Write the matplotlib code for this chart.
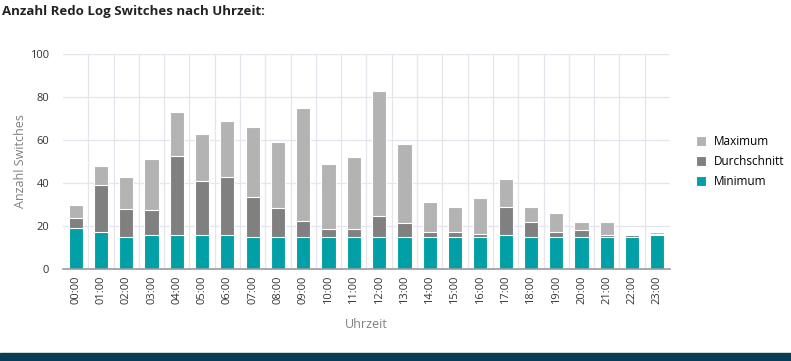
import matplotlib.pyplot as plt
import numpy as np
from matplotlib.patches import Rectangle

plt.rcParams['font.family'] = ['Open Sans', 'DejaVu Sans']

hours = [f"{h:02d}:00" for h in range(24)]
maximum = [30, 48, 43, 51, 73, 63, 69, 66, 59, 75, 49, 52,
           83, 58, 31, 29, 33, 42, 29, 26, 22, 22, 16, 17]
average = [23.5, 39, 28, 27.5, 52.5, 41, 43, 33.5, 28.5, 22.5, 18.5, 18.5,
           24.5, 21.5, 17, 17, 16.5, 29, 22, 17, 18, 16, 16, 16.5]
minimum = [19, 17, 15, 16, 16, 16, 16, 15, 15, 15, 15, 15,
           15, 15, 15, 15, 15, 16, 15, 15, 15, 15, 15, 16]

c_max = '#b3b3b3'
c_avg = '#808080'
c_min = '#00a0a6'

fig = plt.figure(figsize=(7.91, 3.61), dpi=100)
ax = fig.add_axes([63 / 791, 1 - 269 / 361, 607 / 791, 215 / 361])

x = np.arange(len(hours))
w = 0.56
ax.bar(x, maximum, w, color=c_max, edgecolor='white', linewidth=0.8, label='Maximum', zorder=2)
ax.bar(x, average, w, color=c_avg, edgecolor='white', linewidth=0.8, label='Durchschnitt', zorder=3)
ax.bar(x, minimum, w, color=c_min, edgecolor='white', linewidth=0.8, label='Minimum', zorder=4)

ax.set_xlim(-0.5, len(hours) - 0.5)
ax.set_ylim(0, 100)
ax.set_yticks(range(0, 101, 20))
ax.set_xticks(x)
ax.set_xticklabels(hours, rotation=90, fontsize=8, color='#333333')
ax.tick_params(axis='y', labelsize=8, colors='#333333', length=0, pad=10)
ax.tick_params(axis='x', length=0, pad=5)

# grid: horizontal at ticks, vertical between categories
for yv in range(20, 101, 20):
    ax.axhline(yv, color='#e3e6ec', linewidth=0.9, zorder=0)
for xv in x[:-1] + 0.5:
    ax.axvline(xv, color='#e3e6ec', linewidth=0.9, zorder=0)

for s in ['top', 'right', 'left']:
    ax.spines[s].set_visible(False)
ax.spines['bottom'].set_color('#9a9a9a')
ax.spines['bottom'].set_linewidth(1.2)
ax.spines['bottom'].set_zorder(5)

ax.set_ylabel('Anzahl Switches', fontsize=9, color='#808080', labelpad=2)
ax.set_xlabel('Uhrzeit', fontsize=9, color='#808080', labelpad=10)

fig.text(2 / 791, 1 - 12 / 361, 'Anzahl Redo Log Switches nach Uhrzeit:',
         fontsize=9.5, fontweight='bold', color='#222222', va='center', ha='left')

ax.legend(loc='center left', bbox_to_anchor=(1.025, 0.5), frameon=False,
          fontsize=8.5, handlelength=0.9, handleheight=0.9, handletextpad=0.6,
          labelspacing=0.6)

fig.patches.append(Rectangle((0, 0), 1, 8 / 361, transform=fig.transFigure,
                             color='#0a3d55', zorder=0))

fig.savefig('out.png', dpi=100)
